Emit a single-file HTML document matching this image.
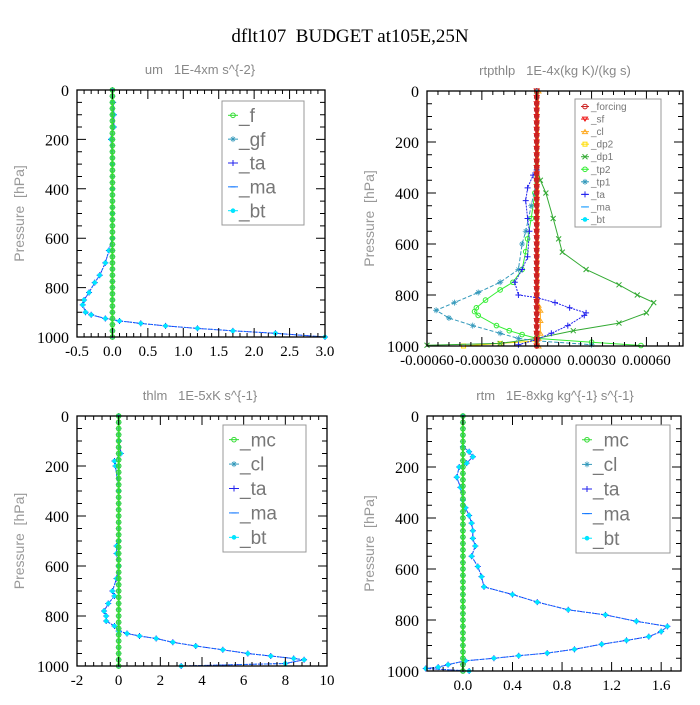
<!DOCTYPE html>
<html><head><meta charset="utf-8"><style>
body{margin:0;background:#fff;width:700px;height:700px;overflow:hidden}
svg text{font-family:"Liberation Serif",serif;white-space:pre}
.sub{font-family:"Liberation Sans",sans-serif;fill:#888;font-size:13px}
.ttl{font-family:"Liberation Sans",sans-serif;fill:#999;font-size:14px}
.leg{font-family:"Liberation Sans",sans-serif;fill:#777}
</style></head><body>
<svg id="chart" width="700" height="700" xmlns="http://www.w3.org/2000/svg">
<text x="350" y="42" text-anchor="middle" font-size="19">dflt107  BUDGET at105E,25N</text>
</svg>
<script>
// ---------- data ----------
const lv = [];for(let p=0;p<=1000;p+=25)lv.push(p);
const zeros = lv.map(()=>0);
// panel 1: um
const umP = [0,50,100,150,200,300,400,500,600,650,700,750,780,820,850,870,900,910,925,935,945,955,965,975,985,1000];
const umV = [0,0.01,0.02,0.02,-0.02,0,0,0,0,-0.05,-0.1,-0.18,-0.25,-0.33,-0.4,-0.42,-0.38,-0.3,-0.1,0.1,0.4,0.75,1.2,1.7,2.3,3.0];
// panel 2: rtpthlp
const dp1P=[0,300,350,400,500,580,632,700,760,800,830,870,910,940,970,990,997];
const dp1V=[0,0,0.00002,0.00005,0.00009,0.00012,0.00014,0.00027,0.00045,0.00055,0.00064,0.0006,0.00045,0.0002,0,-0.0002,-0.0006];
const tp2P=[0,400,500,580,630,700,750,780,820,850,865,880,920,940,955,970,985,998];
const tp2V=[0,-0.00001,-0.00003,-0.00005,-0.00006,-0.00008,-0.00013,-0.0002,-0.00028,-0.00033,-0.00034,-0.00032,-0.00022,-0.00015,-0.00008,0,0.0003,0.00057];
const tp1P=[0,350,450,550,600,700,750,790,830,860,890,920,950,970,980,995];
const tp1V=[0,0,-0.00003,-0.00006,-0.00008,-0.0001,-0.0002,-0.00032,-0.00045,-0.00055,-0.00048,-0.00035,-0.0002,-0.0001,0,0.0003];
const taP=[0,310,330,380,430,500,550,650,700,750,800,810,830,850,870,880,920,950,975,995];
const taV=[0,0,-0.00002,-0.00005,-0.00006,-0.00005,-0.00004,-0.00005,-0.00008,-0.00012,-0.0001,0,0.0001,0.00018,0.00027,0.00026,0.00017,0.00008,0,-0.0001];
const clP=[0,840,860,900,950,970,1000];
const clV=[0.00001,0.00001,0.00002,0.00002,0.00002,0.00001,0.00001];
const dp2P=[0,980,990,1000];
const dp2V=[0,0,-0.0002,-0.0004];
// panel 3: thlm
const thP=[0,100,150,180,200,300,500,520,550,600,650,700,720,750,780,800,820,840,860,870,880,890,905,920,935,950,960,970,975,990,1000];
const thV=[0,0.02,0.1,-0.2,-0.15,0,0,-0.1,-0.1,0,-0.1,-0.3,-0.2,-0.5,-0.7,-0.6,-0.6,-0.2,0,0.4,1.0,1.8,2.6,3.7,5.0,6.2,7.3,8.4,8.9,8.0,3.0];
// panel 4: rtm
const rtP=[0,120,140,160,185,200,240,280,330,360,390,420,450,480,510,550,590,630,670,700,730,760,780,805,825,845,865,880,895,915,930,940,950,960,975,985,990,1000];
const rtV=[0,0,0.05,0.08,0.03,-0.03,-0.05,-0.02,0,0.02,0.05,0.07,0.08,0.08,0.1,0.07,0.12,0.15,0.17,0.4,0.6,0.85,1.15,1.4,1.65,1.6,1.5,1.32,1.12,0.9,0.68,0.45,0.25,0.02,-0.12,-0.2,-0.3,0.05];
// tick labels
const xt1=[-0.5,0,0.5,1,1.5,2,2.5,3], xl1=["-0.5","0.0","0.5","1.0","1.5","2.0","2.5","3.0"];
const xt2=[-0.0006,-0.0003,0,0.0003,0.0006], xl2=["-0.00060","-0.00030","0.00000","0.00030","0.00060"];
const xt3=[-2,0,2,4,6,8,10], xl3=["-2","0","2","4","6","8","10"];
const xt4=[0,0.4,0.8,1.2,1.6], xl4=["0.0","0.4","0.8","1.2","1.6"];
const yt=[0,200,400,600,800,1000];

// ---------- drawing ----------
const svg=document.getElementById('chart');const NS='http://www.w3.org/2000/svg';
function mk(tag,at,par){const e=document.createElementNS(NS,tag);for(const k in at)e.setAttribute(k,at[k]);(par||svg).appendChild(e);return e;}
function marker(g,type,x,y,c){
  if(type==='o'){mk('circle',{cx:x,cy:y,r:2.3,fill:'none',stroke:c,'stroke-width':1},g);}
  else if(type==='O'){mk('circle',{cx:x,cy:y,r:2.3,fill:c},g);}
  else if(type==='+'){mk('path',{d:`M${x-3},${y}h6M${x},${y-3}v6`,stroke:c,'stroke-width':1},g);}
  else if(type==='*'){mk('path',{d:`M${x-3},${y}h6M${x},${y-3}v6M${x-2},${y-2}l4,4M${x-2},${y+2}l4,-4`,stroke:c,'stroke-width':0.8},g);}
  else if(type==='x'){mk('path',{d:`M${x-2.5},${y-2.5}l5,5M${x-2.5},${y+2.5}l5,-5`,stroke:c,'stroke-width':1},g);}
  else if(type==='s'){mk('rect',{x:x-2,y:y-2,width:4,height:4,fill:'none',stroke:c,'stroke-width':1},g);}
  else if(type==='v'){mk('path',{d:`M${x-2.5},${y-2}h5l-2.5,4z`,fill:'none',stroke:c},g);}
  else if(type==='^'){mk('path',{d:`M${x-2.5},${y+2}h5l-2.5,-4z`,fill:'none',stroke:c},g);}
  else if(type==='-'){mk('path',{d:`M${x-2.5},${y}h5`,stroke:c},g);}
}
function panel(o){
  const {L,R,T,B,x0,x1,name}=o;
  const g=mk('g',{});
  
  
  const sx=v=>L+(v-x0)/(x1-x0)*(R-L), sy=p=>T+p/1000*(B-T);
  const st=mk('text',{x:o.tx,y:T-16,'text-anchor':'middle',class:'sub'},g);st.textContent=o.title;
  
  
  const yx=L-53;
  const yl=mk('text',{x:yx,y:(T+B)/2,'text-anchor':'middle',class:'ttl',transform:`rotate(-90 ${yx} ${(T+B)/2})`},g);yl.textContent='Pressure  [hPa]';
  
  
  // draw order: regular series first, then "top" series (reversed) on top
  const order=o.series.filter(s=>!s.top).concat(o.series.filter(s=>s.top).reverse());
  order.forEach(s=>{
    const sg=mk('g',{},g);
    
    
    const d=s.p.map((p,i)=>(i?'L':'M')+sx(s.v[i]).toFixed(1)+','+sy(p).toFixed(1)).join('');
    if(!s.noline)mk('path',{d,fill:'none',stroke:s.c,'stroke-width':s.w||1,'stroke-dasharray':s.dash||''},sg);
    if(s.m)s.p.forEach((p,i)=>marker(sg,s.m,sx(s.v[i]),sy(p),s.mc||s.c));
  });
  // frame + ticks
  mk('rect',{x:L,y:T,width:R-L,height:B-T,fill:'none',stroke:'#000','stroke-width':1.3},g);
  let tk='';
  for(let p=0;p<=1000;p+=50){const y=sy(p),len=p%200==0?9:5;tk+=`M${L},${y}h${len}M${R},${y}h${-len}`;}
  o.xt.forEach(v=>{const x=sx(v);tk+=`M${x},${B}v-9M${x},${T}v9`;});
  const step=(o.xt[1]-o.xt[0])/5;
  for(let v=o.xt[0]-5*step;v<=x1;v+=step){if(v<x0)continue;const x=sx(v);tk+=`M${x},${B}v-4M${x},${T}v4`;}
  mk('path',{d:tk,stroke:'#000','stroke-width':1},g);
  yt.forEach(p=>{const t=mk('text',{x:L-8,y:sy(p)+6,'text-anchor':'end','font-size':16},g);t.textContent=p;
    
    });
  o.xt.forEach((v,i)=>{const t=mk('text',{x:sx(v),y:B+19,'text-anchor':'middle','font-size':o.xfs||15},g);t.textContent=o.xl[i];
    
    });
  // legend
  const lg=mk('g',{},g);
  
  
  const [lx,ly,lw,lh]=o.leg;
  mk('rect',{x:lx,y:ly,width:lw,height:lh,fill:'#fff',stroke:'#999','stroke-width':1},lg);
  const n=o.series.length,dy=lh/(n+0.2);
  o.series.forEach((s,i)=>{const y=ly+dy*(i+0.6);
    mk('path',{d:`M${lx+6},${y}h${o.lfs>12?10:8}`,stroke:s.c},lg);marker(lg,s.m,lx+(o.lfs>12?11:10),y,s.mc||s.c);
    const t=mk('text',{x:lx+(o.lfs>12?17:16),y:y+o.lfs*0.35,'font-size':o.lfs,class:'leg'},lg);t.textContent=s.n;
    
    });
}
const G='#33dd33';
panel({name:'um',L:77,R:325,T:90,B:337,x0:-0.5,x1:3.0,tx:200,title:'um   1E-4xm s^{-2}',xt:xt1,xl:xl1,leg:[222,101,82,124],lfs:19,
 series:[
  {n:'_f',p:lv,v:zeros,c:G,m:'o',w:2,top:true},
  {n:'_gf',p:lv,v:zeros,c:'#3399bb',m:'*',top:true},
  {n:'_ta',p:umP,v:umV,c:'#2222ee',m:'+',dash:'2,1'},
  {n:'_ma',p:umP,v:umV,c:'#1177ff',m:'-',dash:'3,2'},
  {n:'_bt',p:umP,v:umV,c:'#00e5ff',m:'O',noline:true}]});
panel({name:'rtpthlp',L:427,R:683,T:91,B:346,x0:-0.0006,x1:0.0008,tx:555,title:'rtpthlp   1E-4x(kg K)/(kg s)',xt:xt2,xl:xl2,leg:[575,99,86,128],lfs:10,xfs:15,
 series:[
  {n:'_forcing',p:lv,v:zeros,c:'#cc2222',m:'o',w:3,top:true},
  {n:'_sf',p:lv,v:zeros,c:'#ee1111',m:'v',w:2,top:true},
  {n:'_cl',p:clP,v:clV,c:'#ffaa22',m:'^'},
  {n:'_dp2',p:dp2P,v:dp2V,c:'#ffdd00',m:'s'},
  {n:'_dp1',p:dp1P,v:dp1V,c:'#33aa33',m:'x'},
  {n:'_tp2',p:tp2P,v:tp2V,c:'#33ee33',m:'o'},
  {n:'_tp1',p:tp1P,v:tp1V,c:'#3399bb',m:'*',dash:'4,2'},
  {n:'_ta',p:taP,v:taV,c:'#2222ee',m:'+',dash:'2,1'},
  {n:'_ma',p:lv,v:zeros,c:'#1199ff',m:'-'},
  {n:'_bt',p:lv,v:zeros,c:'#00e5ff',m:'O'}]});
panel({name:'thlm',L:77,R:327,T:416,B:666,x0:-2,x1:10,tx:200,title:'thlm   1E-5xK s^{-1}',xt:xt3,xl:xl3,leg:[223,425,83,127],lfs:19,
 series:[
  {n:'_mc',p:lv,v:zeros,c:G,m:'o',w:2,top:true},
  {n:'_cl',p:lv,v:zeros,c:'#3399bb',m:'*',top:true},
  {n:'_ta',p:thP,v:thV,c:'#2222ee',m:'+',dash:'2,1'},
  {n:'_ma',p:thP,v:thV,c:'#1177ff',m:'-',dash:'3,2'},
  {n:'_bt',p:thP,v:thV,c:'#00e5ff',m:'O',noline:true}]});
panel({name:'rtm',L:427,R:681,T:416,B:671,x0:-0.29,x1:1.76,tx:555,title:'rtm   1E-8xkg kg^{-1} s^{-1}',xt:xt4,xl:xl4,leg:[576,425,94,128],lfs:19,
 series:[
  {n:'_mc',p:lv,v:zeros,c:G,m:'o',w:2,top:true},
  {n:'_cl',p:lv,v:zeros,c:'#3399bb',m:'*',top:true},
  {n:'_ta',p:rtP,v:rtV,c:'#2222ee',m:'+',dash:'2,1'},
  {n:'_ma',p:rtP,v:rtV,c:'#1177ff',m:'-',dash:'3,2'},
  {n:'_bt',p:rtP,v:rtV,c:'#00e5ff',m:'O',noline:true}]});
</script>
</body></html>
